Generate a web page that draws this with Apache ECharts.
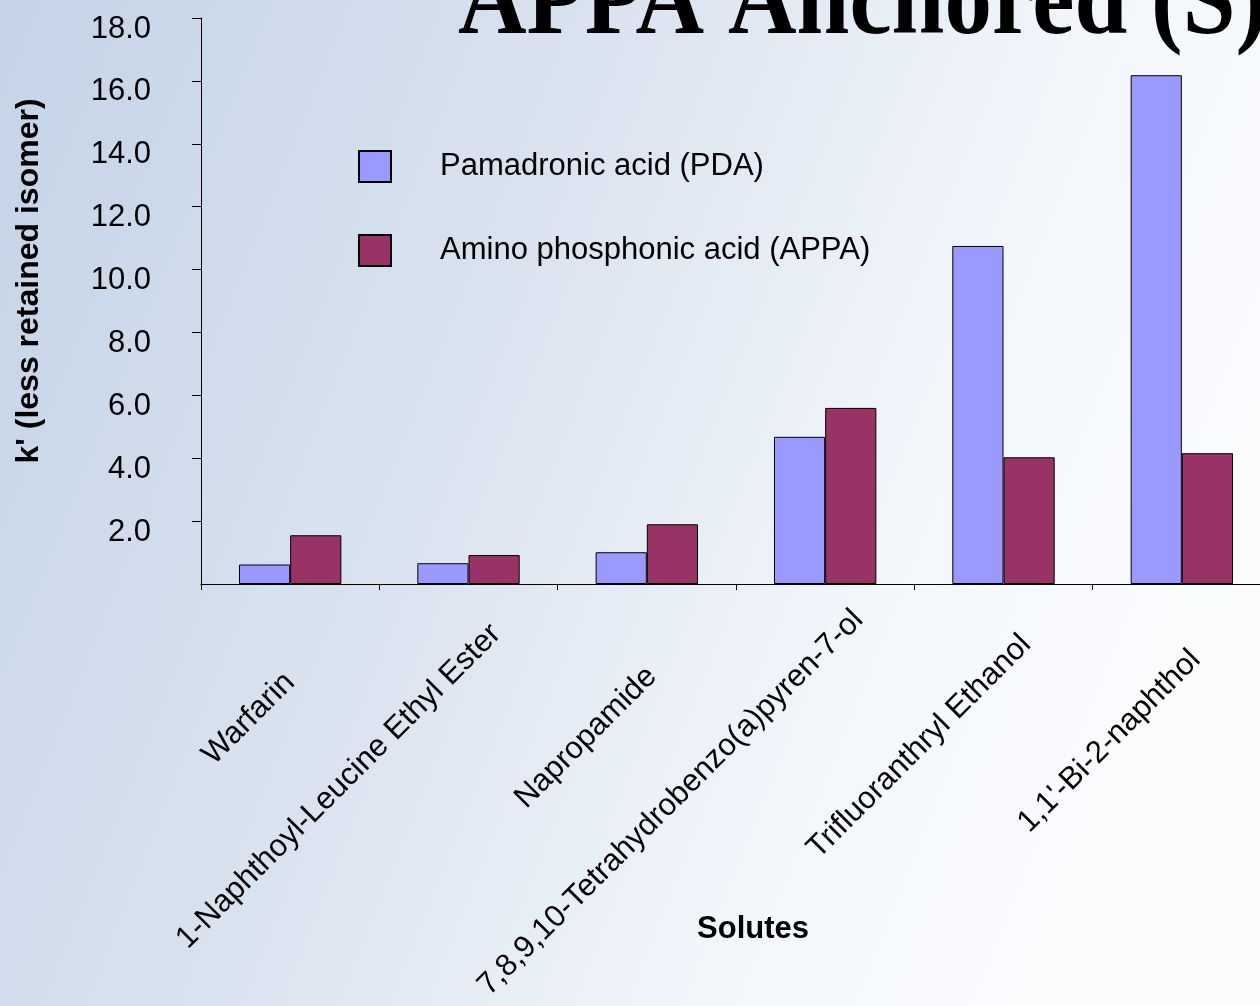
<!DOCTYPE html>
<html>
<head>
<meta charset="utf-8">
<style>
  html, body { margin: 0; padding: 0; width: 1260px; height: 1006px; overflow: hidden; }
  #chart { width: 1260px; height: 1006px; }
</style>
<script src="https://cdn.jsdelivr.net/npm/echarts@6/dist/echarts.min.js"></script>
</head>
<body>
<div id="chart"></div>
<script>
// Retention factor of the less retained isomer for each solute
const solutes = [
  'Warfarin',
  '1-Naphthoyl-Leucine Ethyl Ester',
  'Napropamide',
  '7,8,9,10-Tetrahydrobenzo(a)pyren-7-ol',
  'Trifluoranthryl Ethanol',
  "1,1'-Bi-2-naphthol"
];
const pdaValues  = [0.62, 0.66, 1.01, 4.68, 10.75, 16.18];
const appaValues = [1.55, 0.92, 1.90, 5.60, 4.03, 4.16];
const seriesNames = ['Pamadronic acid (PDA)', 'Amino phosphonic acid (APPA)'];
const yMin = 0, yMax = 18, yStep = 2;

// per-label placement of the slanted category names: [top, right] padding
const labelPadTop   = [149, 120, 148, 108, 128, 137];
const labelPadRight = [75, 21, 67, 7, 32, 49];

const SANS = "Arial, 'Liberation Sans', Helvetica, sans-serif";
const SERIF = "'Times New Roman', 'Liberation Serif', serif";

const rich = {};
solutes.forEach(function (s, i) {
  rich['p' + i] = {
    fontFamily: SANS, fontSize: 31, color: '#000',
    padding: [labelPadTop[i], labelPadRight[i], 0, 0]
  };
});

const chart = echarts.init(document.getElementById('chart'));
chart.setOption({
  animation: false,
  backgroundColor: {
    type: 'linear', x: 0, y: 0, x2: 1, y2: 0.5,
    colorStops: [
      { offset: 0, color: '#c4d3e7' },
      { offset: 0.45, color: '#dbe4f0' },
      { offset: 0.75, color: '#f2f6fb' },
      { offset: 1, color: '#fbfcfe' }
    ]
  },
  textStyle: { fontFamily: SANS, color: '#000' },
  grid: { left: 201, top: 18, width: 1070, height: 566, outerBoundsMode: 'none', containLabel: false },
  legend: {
    orient: 'vertical', left: 358, top: 150, padding: 0,
    itemWidth: 32, itemHeight: 31, itemGap: 51,
    icon: 'rect',
    textStyle: { fontFamily: SANS, fontSize: 31, color: '#000', padding: [0, 0, 0, 44] },
    data: seriesNames
  },
  xAxis: {
    type: 'category',
    data: solutes,
    axisLine: { lineStyle: { color: '#000', width: 1 } },
    axisTick: { show: true, length: 6, lineStyle: { color: '#000' } },
    axisLabel: {
      interval: 0, rotate: 45, margin: -12,
      align: 'right', verticalAlign: 'middle',
      formatter: function (v, i) { return '{p' + i + '|' + v + '}'; },
      rich: rich
    }
  },
  yAxis: {
    type: 'value', min: yMin, max: yMax, interval: yStep,
    axisLine: { show: true, lineStyle: { color: '#000', width: 1 } },
    axisTick: { show: true, length: 9, lineStyle: { color: '#000' } },
    splitLine: { show: false },
    axisLabel: {
      margin: 50,
      showMinLabel: false,
      formatter: function (v) { return v === 0 ? '' : '{n|' + v.toFixed(1) + '}'; },
      rich: {
        n: { fontFamily: SANS, fontSize: 31, color: '#000', padding: [22, 0, 0, 0] }
      }
    }
  },
  series: [
    {
      name: seriesNames[0], type: 'bar', data: pdaValues,
      barGap: 0, barCategoryGap: '42.6%',
      itemStyle: { color: '#9999ff', borderColor: '#000', borderWidth: 1 }
    },
    {
      name: seriesNames[1], type: 'bar', data: appaValues,
      barGap: 0, barCategoryGap: '42.6%',
      itemStyle: { color: '#993366', borderColor: '#000', borderWidth: 1 }
    }
  ],
  graphic: [
    {
      type: 'text', x: 458, y: -38, originY: 78, scaleY: 1.12,
      style: { text: 'APPA Anchored (S)', font: 'bold 95px ' + SERIF, fill: '#000' }
    },
    {
      type: 'text', x: 29, y: 281, rotation: Math.PI / 2,
      style: {
        text: "k' (less retained isomer)", font: 'bold 32px ' + SANS, fill: '#000',
        align: 'center', verticalAlign: 'middle'
      }
    },
    {
      type: 'text', x: 753, y: 929,
      style: {
        text: 'Solutes', font: 'bold 31px ' + SANS, fill: '#000',
        align: 'center', verticalAlign: 'middle'
      }
    }
  ]
});
</script>
</body>
</html>
